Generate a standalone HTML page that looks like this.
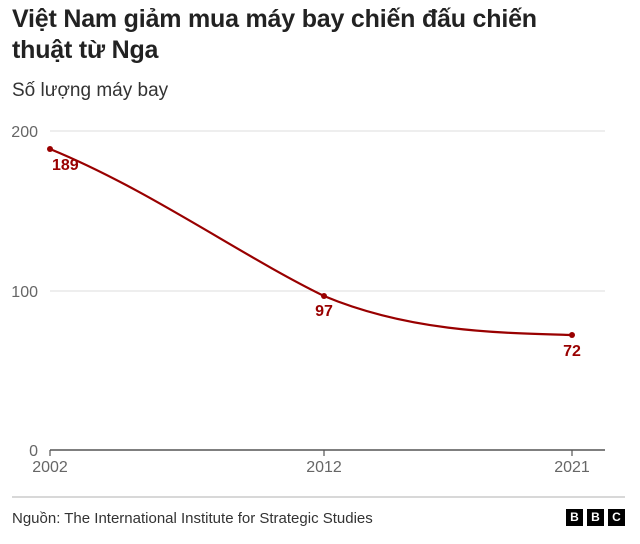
<!DOCTYPE html>
<html><head><meta charset="utf-8"><style>
body{margin:0;width:640px;height:544px;background:#fff;font-family:"Liberation Sans","DejaVu Sans",sans-serif;overflow:hidden;position:relative}
.t{position:absolute;left:12px;top:4px;font-size:25px;font-weight:bold;color:#222;line-height:31px;white-space:nowrap;letter-spacing:-0.2px}
.s{position:absolute;left:12px;top:80px;font-size:19px;color:#333}
.f{position:absolute;left:12px;top:510px;font-size:15px;color:#333}
.b{position:absolute;top:509px;width:17px;height:17px;background:#000;color:#fff;font-weight:bold;font-size:12px;text-align:center;line-height:17px}
</style></head><body>
<div class="t">Việt Nam giảm mua máy bay chiến đấu chiến<br>thuật từ Nga</div>
<div class="s">Số lượng máy bay</div>
<svg width="640" height="544" style="position:absolute;left:0;top:0" font-family="Liberation Sans, sans-serif">
<g stroke="#ddd" stroke-width="1">
<line x1="50" y1="131" x2="605" y2="131"/><line x1="50" y1="291" x2="605" y2="291"/>
</g>
<g fill="#666" font-size="16">
<text x="38" y="137" text-anchor="end">200</text>
<text x="38" y="297" text-anchor="end">100</text>
<text x="38" y="456" text-anchor="end">0</text>
<text x="50" y="472" text-anchor="middle">2002</text>
<text x="324" y="472" text-anchor="middle">2012</text>
<text x="572" y="472" text-anchor="middle">2021</text>
</g>
<line x1="50" y1="450" x2="605" y2="450" stroke="#555" stroke-width="1.5"/>
<g stroke="#555" stroke-width="1.2"><line x1="50" y1="450" x2="50" y2="456"/><line x1="324" y1="450" x2="324" y2="456"/><line x1="572" y1="450" x2="572" y2="456"/></g>
<path d="M50,149 C150,190 240,255 324,296 C410,332 500,333 572,335" fill="none" stroke="#990000" stroke-width="2.2"/>
<g fill="#990000"><circle cx="50" cy="149" r="3"/><circle cx="324" cy="296" r="3"/><circle cx="572" cy="335" r="3"/></g>
<g fill="#990000" font-size="16" font-weight="bold">
<text x="52" y="170">189</text>
<text x="324" y="316" text-anchor="middle">97</text>
<text x="572" y="356" text-anchor="middle">72</text>
</g>
<line x1="12" y1="497" x2="625" y2="497" stroke="#ccc" stroke-width="1.5"/>
</svg>
<div class="f">Nguồn: The International Institute for Strategic Studies</div>
<div class="b" style="left:566px">B</div><div class="b" style="left:587px">B</div><div class="b" style="left:608px">C</div>
</body></html>
